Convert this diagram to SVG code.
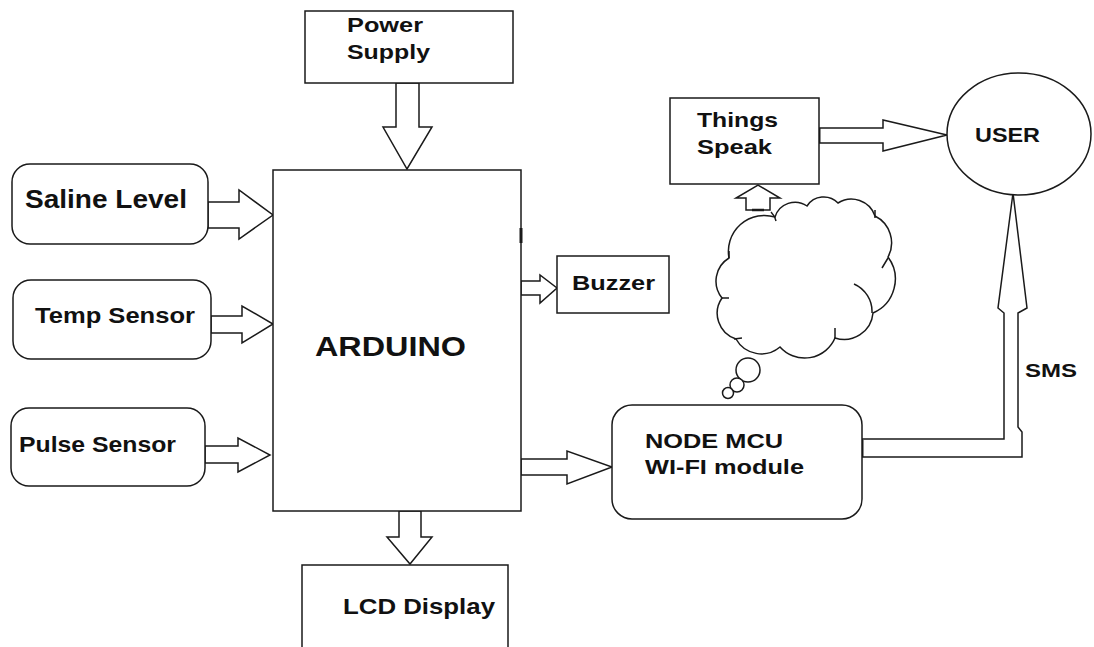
<svg xmlns="http://www.w3.org/2000/svg" width="1094" height="647" viewBox="0 0 1094 647">
<style>
.b{fill:#fff;stroke:#1a1a1a;stroke-width:1.5}
.c{fill:#fff;stroke:#1a1a1a;stroke-width:1.5;stroke-linejoin:miter}
.l{fill:none;stroke:#1a1a1a;stroke-width:1.5}
.t{font-family:"Liberation Sans",Arial,sans-serif;font-weight:bold;fill:#111}
</style>
<rect width="1094" height="647" fill="#fff"/>
<g id="connectors">
<polygon class="c" points="396,83 419,83 419,127 432,127 407,169 383,127 396,127"/>
<polygon class="c" points="208,202 239,202 239,190 273,215 239,239 239,228 208,228"/>
<polygon class="c" points="211,316 242,316 242,306 273,324 242,343 242,333 211,333"/>
<polygon class="c" points="205,446 238,446 238,438 270,455 238,472 238,463 205,463"/>
<polygon class="c" points="399,511 421,511 421,537 432,537 410,564 387,537 399,537"/>
<polygon class="c" points="521,281 540,281 540,275 557,288 540,303 540,295 521,295"/>
<polygon class="c" points="521,459 567,459 567,451 612,467 567,484 567,475 521,475"/>
<polygon class="c" points="819,128 883,128 883,120 947,135 883,151 883,143 819,143"/>
<polygon class="c" points="746,210 746,198 736,198 758,185 780,198 770,198 770,210"/>
<path class="c" d="M862,439 H1004 V313 L998,308 L1013,193 L1027,308 L1018,313 V427 L1022,432 V457 H862 Z"/>
<line x1="862" y1="440" x2="862" y2="457" stroke="#1a1a1a" stroke-width="3"/>
<line x1="819" y1="128" x2="819" y2="143" stroke="#1a1a1a" stroke-width="3"/>
<line x1="752" y1="210" x2="764" y2="210" stroke="#1a1a1a" stroke-width="2.5"/>
<text class="t" x="1025" y="377" font-size="19" textLength="52" lengthAdjust="spacingAndGlyphs">SMS</text>
</g>
<g id="power">
<rect class="b" x="305" y="11" width="208" height="72"/>
<text class="t" x="347" y="32" font-size="21" textLength="76" lengthAdjust="spacingAndGlyphs">Power</text>
<text class="t" x="347" y="59" font-size="21" textLength="83" lengthAdjust="spacingAndGlyphs">Supply</text>
</g>
<g id="arduino">
<rect class="b" x="273" y="170" width="248" height="341"/>
<line x1="521" y1="228" x2="521" y2="243" stroke="#1a1a1a" stroke-width="3"/>
<text class="t" x="315" y="356" font-size="27" textLength="151" lengthAdjust="spacingAndGlyphs">ARDUINO</text>
</g>
<g id="saline">
<rect class="b" x="12" y="164" width="196" height="80" rx="18" ry="18"/>
<text class="t" x="25" y="208" font-size="25" textLength="162" lengthAdjust="spacingAndGlyphs">Saline Level</text>
</g>
<g id="temp">
<rect class="b" x="13" y="280" width="198" height="79" rx="18" ry="18"/>
<text class="t" x="35" y="323" font-size="22" textLength="160" lengthAdjust="spacingAndGlyphs">Temp Sensor</text>
</g>
<g id="pulse">
<rect class="b" x="11" y="408" width="194" height="78" rx="18" ry="18"/>
<text class="t" x="19" y="452" font-size="22" textLength="157" lengthAdjust="spacingAndGlyphs">Pulse Sensor</text>
</g>
<g id="lcd">
<path class="b" d="M302,650 V565 H508 V650"/>
<text class="t" x="343" y="614" font-size="22" textLength="152" lengthAdjust="spacingAndGlyphs">LCD Display</text>
</g>
<g id="buzzer">
<rect class="b" x="557" y="256" width="112" height="57"/>
<text class="t" x="572" y="290" font-size="21" textLength="83" lengthAdjust="spacingAndGlyphs">Buzzer</text>
</g>
<g id="nodemcu">
<rect class="b" x="612" y="405" width="250" height="114" rx="20" ry="20"/>
<text class="t" x="645" y="448" font-size="21" textLength="138" lengthAdjust="spacingAndGlyphs">NODE MCU</text>
<text class="t" x="645" y="474" font-size="21" textLength="159" lengthAdjust="spacingAndGlyphs">WI-FI module</text>
</g>
<g id="thingspeak">
<rect class="b" x="670" y="98" width="149" height="86"/>
<text class="t" x="697" y="127" font-size="21" textLength="81" lengthAdjust="spacingAndGlyphs">Things</text>
<text class="t" x="697" y="154" font-size="21" textLength="75" lengthAdjust="spacingAndGlyphs">Speak</text>
</g>
<g id="cloud">
<path class="b" d="M729,258 A36,36 0 0 1 775,217 A21,21 0 0 1 807,206 A20,20 0 0 1 838,203 A25,25 0 0 1 875,216 A30,30 0 0 1 888,257 A37,37 0 0 1 873,313 A29,29 0 0 1 835,338 A33,33 0 0 1 780,347 A29,29 0 0 1 736,339 A27,27 0 0 1 722,298 A27,27 0 0 1 729,258 Z"/>
<path class="l" d="M771,212 Q775,216 776,221 M875,210 V218 M882,268 L888,258 M854,284 A30,30 0 0 1 872,313 M835,338 V328 M734,339 L742,338 M722,298 L729,298 M729,258 V251"/>
<circle class="b" cx="748" cy="370" r="12"/>
<circle class="b" cx="737" cy="385" r="7"/>
<circle class="b" cx="728" cy="393" r="5.5"/>
</g>
<g id="user">
<ellipse class="b" cx="1019" cy="134" rx="72" ry="61"/>
<text class="t" x="975" y="142" font-size="21" textLength="65" lengthAdjust="spacingAndGlyphs">USER</text>
</g>
</svg>
